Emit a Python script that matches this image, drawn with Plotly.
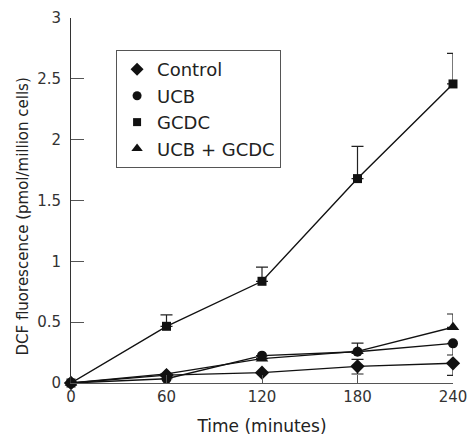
import plotly.graph_objects as go

time_min = [0, 60, 120, 180, 240]

control = [0, 0.065, 0.085, 0.137, 0.162]
control_err_up = [0, 0, 0, 0.058, 0]
control_err_down = [0, 0, 0, 0.063, 0.099]

ucb = [0, 0.035, 0.225, 0.257, 0.326]
ucb_err_up = [0, 0, 0, 0.07, 0]
ucb_err_down = [0, 0, 0, 0, 0.096]

gcdc = [0, 0.466, 0.836, 1.68, 2.458]
gcdc_err_up = [0, 0.094, 0.117, 0.265, 0.252]
gcdc_err_down = [0, 0, 0, 0, 0]

ucb_gcdc = [0, 0.075, 0.2, 0.26, 0.458]
ucb_gcdc_err_up = [0, 0, 0, 0, 0.109]
ucb_gcdc_err_down = [0, 0, 0, 0, 0]

series = [
    ("Control", control, control_err_up, control_err_down, "diamond", 11),
    ("UCB", ucb, ucb_err_up, ucb_err_down, "circle", 10),
    ("GCDC", gcdc, gcdc_err_up, gcdc_err_down, "square", 9),
    ("UCB + GCDC", ucb_gcdc, ucb_gcdc_err_up, ucb_gcdc_err_down, "triangle-up", 11),
]

FONT = "DejaVu Sans"
fig = go.Figure()
for name, ys, up, down, sym, sz in series:
    fig.add_trace(go.Scatter(
        x=time_min, y=ys, mode="lines+markers", name=name, showlegend=False,
        line=dict(color="#111", width=1.4),
        marker=dict(symbol=sym, size=sz, color="#111"),
        error_y=dict(type="data", array=up, arrayminus=down, symmetric=False,
                     color="#222", thickness=1.2, width=6),
        cliponaxis=False,
    ))
for name, ys, up, down, sym, sz in series:
    fig.add_trace(go.Scatter(
        x=[None], y=[None], mode="markers", name=name,
        marker=dict(symbol=sym, size=sz - 1, color="#111"),
    ))

fig.update_layout(
    width=469, height=437,
    margin=dict(l=71, r=16, t=18, b=54),
    paper_bgcolor="white", plot_bgcolor="white",
    font=dict(family=FONT, color="#222"),
    legend=dict(x=0.118, y=0.912, xanchor="left", yanchor="top",
                bordercolor="#555", borderwidth=1, bgcolor="white",
                font=dict(family=FONT, size=18, color="#222"),
                tracegroupgap=0),
    annotations=[dict(text="DCF fluorescence (pmol/million cells)",
                      xref="paper", yref="paper", x=0, y=0.5, xshift=-49, yshift=-16,
                      xanchor="center", yanchor="middle", textangle=-90,
                      showarrow=False, font=dict(family=FONT, size=15, color="#222"))],
)
fig.update_xaxes(
    range=[0, 240], tickvals=time_min, ticktext=[str(t) for t in time_min],
    showgrid=False, zeroline=False, showline=True, linecolor="#555", linewidth=1,
    ticks="inside", ticklen=8, tickcolor="#555", automargin=False,
    ticklabeloverflow="allow",
    tickfont=dict(family=FONT, size=15, color="#333"),
    title=dict(text="Time (minutes)", font=dict(family=FONT, size=17, color="#222")),
)
fig.update_yaxes(
    range=[0, 3], tickvals=[0, 0.5, 1, 1.5, 2, 2.5, 3],
    ticktext=["0", "0.5", "1", "1.5", "2", "2.5", "3"],
    showgrid=False, zeroline=False, showline=True, linecolor="#333", linewidth=1,
    ticks="inside", ticklen=13, tickcolor="#555", automargin=False,
    ticklabelstandoff=6, ticklabeloverflow="allow",
    tickfont=dict(family=FONT, size=15, color="#333"),
)
fig.write_html("out.html", config={"displayModeBar": False},
               post_script="document.body.style.margin='0';document.body.style.overflow='hidden';")
